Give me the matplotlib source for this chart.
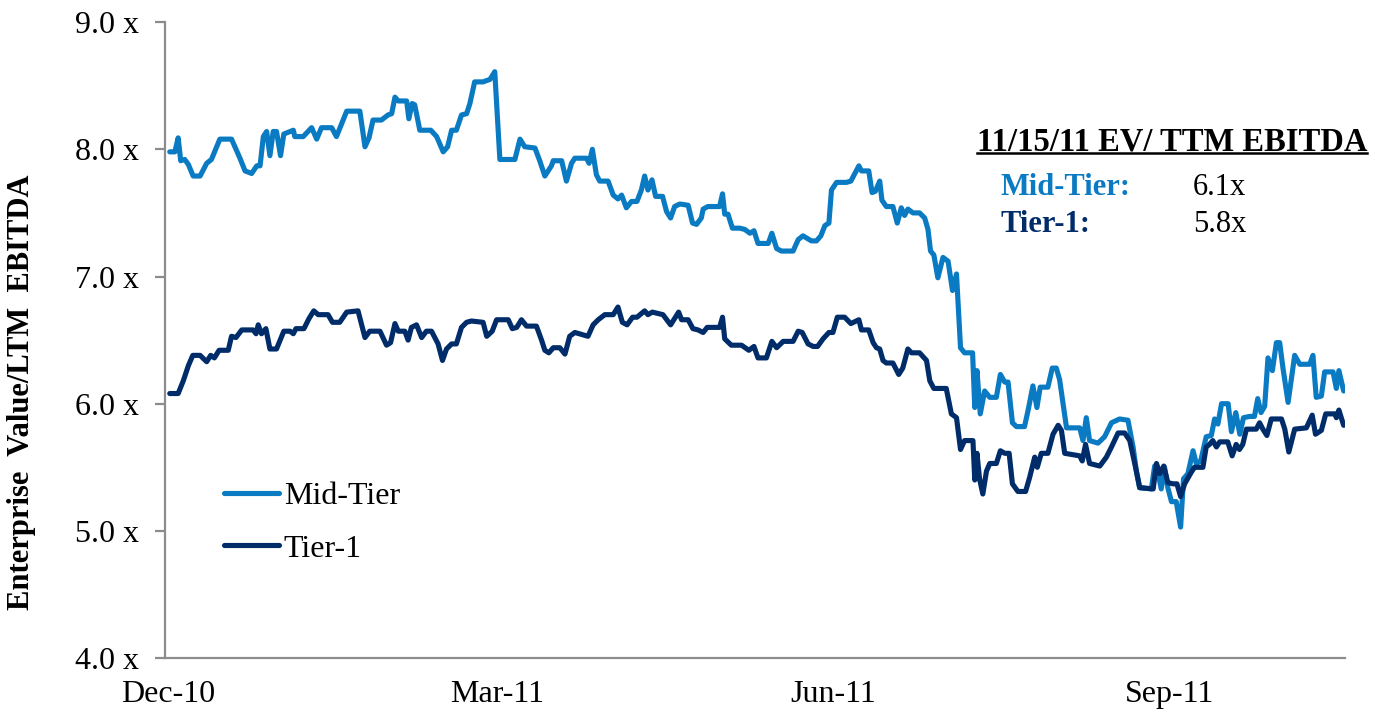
import pandas as pd
import matplotlib
matplotlib.use('Agg')
import matplotlib.pyplot as plt
import matplotlib.dates as mdates
from matplotlib.lines import Line2D

# ---- data (days after 1-Dec-2010, EV / LTM EBITDA multiple) ----
base_date = pd.Timestamp('2010-12-01')

mid_day = [0.5, 1.9, 2.8, 3.5, 4.6, 5.6, 6.9, 8.8, 10.6, 11.9,
           14.2, 17.4, 19.7, 21.1, 22.9, 24.3, 25.2, 26.1, 27.0, 27.9,
           28.8, 29.7, 30.8, 31.7, 33.4, 34.3, 34.7, 37.0, 39.3, 40.7,
           42.0, 44.8, 46.1, 48.9, 52.5, 53.9, 55.0, 56.1, 58.4, 60.2,
           61.2, 62.1, 63.0, 65.3, 65.9, 66.8, 67.5, 68.9, 71.9, 73.5,
           75.3, 76.5, 77.6, 78.9, 80.3, 81.7, 82.6, 83.9, 86.2, 88.1,
           89.4, 90.8, 94.9, 96.3, 97.6, 100.4, 101.7, 103.1, 104.9, 105.4,
           107.7, 109.0, 110.4, 111.3, 114.5, 115.2, 116.1, 117.2, 118.1, 120.4,
           121.8, 123.1, 124.1, 125.4, 126.8, 128.3, 129.5, 130.4, 131.3, 132.4,
           133.4, 135.3, 136.4, 137.5, 138.6, 140.0, 142.3, 143.5, 144.6, 145.9,
           146.4, 147.7, 150.9, 151.7, 152.3, 153.2, 154.4, 156.4, 157.8, 159.2,
           160.3, 161.4, 164.2, 165.2, 166.5, 167.8, 171.0, 172.4, 173.7, 176.0,
           177.4, 178.6, 179.7, 180.8, 181.5, 182.9, 185.6, 186.8, 187.9, 189.0,
           189.7, 191.7, 192.6, 193.5, 194.7, 195.3, 196.5, 198.3, 199.5, 200.6,
           201.5, 202.4, 203.8, 205.6, 207.0, 207.9, 208.6, 209.5, 210.6, 212.0,
           213.4, 214.6, 215.7, 216.8, 217.9, 220.1, 220.7, 221.3, 222.2, 223.4,
           224.8, 226.6, 227.7, 228.9, 229.8, 231.0, 232.1, 234.3, 235.3, 236.6,
           237.7, 238.6, 240.7, 241.9, 243.0, 243.9, 245.8, 249.4, 250.3, 251.2,
           252.1, 254.4, 256.2, 258.1, 260.3, 262.6, 264.0, 264.9, 265.8, 269.0,
           269.9, 270.8, 271.7, 272.6, 273.5, 274.5, 275.8, 277.0, 277.8, 279.0,
           280.4, 281.3, 282.5, 284.0, 285.4, 286.3, 287.2, 288.2, 290.0, 290.9,
           292.1, 293.2, 294.2, 295.9, 297.2, 298.1, 299.0, 300.0, 300.9, 302.1,
           303.2, 304.1, 305.0, 306.4, 308.2, 309.6, 312.3, 313.2, 314.1, 315.5,
           316.4, 318.7, 319.6, 320.3, 321.6]
mid_val = [7.98, 7.98, 8.09, 7.91, 7.92, 7.88, 7.79, 7.79, 7.89, 7.92,
           8.08, 8.08, 7.93, 7.83, 7.81, 7.87, 7.87, 8.10, 8.14, 7.95,
           8.14, 8.14, 7.95, 8.12, 8.14, 8.15, 8.10, 8.10, 8.17, 8.08,
           8.17, 8.17, 8.10, 8.30, 8.30, 8.02, 8.09, 8.23, 8.23, 8.27,
           8.28, 8.41, 8.38, 8.38, 8.24, 8.36, 8.35, 8.15, 8.15, 8.10,
           7.98, 8.02, 8.15, 8.15, 8.27, 8.28, 8.36, 8.53, 8.53, 8.55,
           8.61, 7.92, 7.92, 8.08, 8.02, 8.01, 7.91, 7.79, 7.87, 7.91,
           7.91, 7.75, 7.89, 7.93, 7.93, 7.89, 8.00, 7.80, 7.75, 7.75,
           7.64, 7.61, 7.64, 7.54, 7.59, 7.59, 7.68, 7.79, 7.68, 7.76,
           7.63, 7.63, 7.51, 7.46, 7.55, 7.57, 7.56, 7.42, 7.41, 7.46,
           7.53, 7.55, 7.55, 7.65, 7.49, 7.49, 7.38, 7.38, 7.37, 7.34,
           7.36, 7.26, 7.26, 7.34, 7.22, 7.20, 7.20, 7.29, 7.32, 7.28,
           7.28, 7.32, 7.40, 7.42, 7.68, 7.74, 7.74, 7.75, 7.81, 7.87,
           7.83, 7.83, 7.66, 7.67, 7.75, 7.60, 7.55, 7.55, 7.42, 7.54,
           7.48, 7.53, 7.50, 7.50, 7.46, 7.37, 7.20, 7.17, 6.99, 7.15,
           7.12, 6.89, 7.02, 6.44, 6.40, 6.40, 5.97, 6.26, 5.92, 6.10,
           6.05, 6.05, 6.23, 6.17, 6.17, 5.85, 5.82, 5.82, 5.95, 6.14,
           5.97, 6.13, 6.13, 6.28, 6.28, 6.19, 5.81, 5.81, 5.71, 5.89,
           5.71, 5.69, 5.74, 5.85, 5.88, 5.87, 5.66, 5.47, 5.34, 5.33,
           5.51, 5.46, 5.33, 5.50, 5.34, 5.23, 5.23, 5.03, 5.41, 5.45,
           5.63, 5.53, 5.55, 5.74, 5.75, 5.88, 5.84, 6.00, 6.00, 5.78,
           5.93, 5.76, 5.89, 5.90, 5.90, 6.04, 5.93, 5.98, 6.36, 6.26,
           6.48, 6.48, 6.28, 6.01, 6.38, 6.31, 6.31, 6.38, 6.05, 6.06,
           6.25, 6.25, 6.12, 6.26, 6.10]

t1_day = [0.5, 2.8, 4.2, 5.6, 6.8, 8.8, 10.6, 11.7, 12.7, 14.0,
          16.5, 17.4, 18.6, 20.2, 23.3, 24.1, 24.7, 25.6, 26.8, 27.9,
          29.7, 31.7, 33.4, 34.3, 35.0, 37.2, 38.6, 39.9, 41.1, 43.8,
          45.0, 47.0, 48.9, 52.0, 53.9, 55.2, 58.0, 59.8, 60.9, 62.1,
          63.0, 64.8, 65.7, 66.6, 68.0, 69.4, 70.7, 72.1, 73.9, 75.1,
          76.2, 77.6, 78.9, 80.3, 81.7, 83.0, 86.2, 87.2, 88.7, 89.9,
          93.1, 94.2, 95.4, 96.7, 98.1, 100.8, 102.2, 103.1, 104.2, 105.4,
          107.2, 108.6, 109.9, 111.3, 114.9, 116.3, 117.7, 119.5, 121.8, 123.1,
          124.3, 125.6, 127.1, 128.3, 130.4, 131.3, 132.5, 135.4, 137.5, 138.6,
          139.7, 140.5, 142.3, 143.6, 145.0, 146.4, 147.5, 150.9, 151.7, 152.3,
          154.1, 156.9, 158.9, 160.3, 161.4, 163.7, 165.2, 166.5, 168.3, 171.0,
          172.4, 173.5, 175.1, 176.5, 177.7, 179.2, 180.8, 181.9, 183.1, 185.1,
          186.8, 189.0, 189.7, 191.7, 192.9, 193.8, 194.7, 195.6, 196.5, 198.3,
          199.9, 201.0, 202.4, 203.4, 205.6, 207.5, 208.4, 209.5, 212.9, 214.3,
          215.7, 216.8, 217.9, 220.2, 220.7, 221.3, 222.0, 222.9, 223.9, 224.8,
          226.6, 227.7, 228.9, 230.1, 231.0, 232.5, 234.6, 235.7, 237.1, 237.8,
          238.9, 240.7, 242.1, 243.5, 244.4, 245.3, 249.4, 250.1, 251.0, 252.1,
          254.9, 256.7, 258.1, 259.9, 261.7, 263.1, 264.9, 265.8, 269.5, 270.4,
          271.3, 272.4, 273.5, 274.9, 276.0, 277.0, 278.1, 279.9, 280.8, 283.1,
          284.0, 284.9, 285.8, 286.8, 287.7, 289.9, 291.1, 292.2, 293.1, 294.0,
          295.0, 297.7, 298.6, 299.5, 300.6, 301.8, 304.6, 305.5, 306.6, 308.2,
          311.4, 313.0, 313.9, 315.5, 316.7, 319.2, 319.6, 320.3, 321.6]
t1_val = [6.08, 6.08, 6.18, 6.30, 6.38, 6.38, 6.33, 6.38, 6.36, 6.42,
          6.42, 6.53, 6.52, 6.58, 6.58, 6.55, 6.62, 6.55, 6.59, 6.43,
          6.43, 6.57, 6.57, 6.55, 6.59, 6.59, 6.67, 6.73, 6.70, 6.70,
          6.64, 6.64, 6.72, 6.73, 6.52, 6.57, 6.57, 6.46, 6.48, 6.63,
          6.57, 6.57, 6.50, 6.60, 6.62, 6.52, 6.57, 6.57, 6.47, 6.34,
          6.43, 6.47, 6.47, 6.60, 6.64, 6.65, 6.64, 6.53, 6.57, 6.66,
          6.66, 6.59, 6.60, 6.66, 6.61, 6.61, 6.50, 6.42, 6.40, 6.44,
          6.44, 6.39, 6.53, 6.56, 6.53, 6.62, 6.66, 6.70, 6.70, 6.76,
          6.64, 6.62, 6.68, 6.68, 6.73, 6.70, 6.72, 6.70, 6.62, 6.67,
          6.72, 6.66, 6.66, 6.59, 6.58, 6.56, 6.60, 6.60, 6.68, 6.51,
          6.46, 6.46, 6.42, 6.45, 6.36, 6.36, 6.49, 6.44, 6.49, 6.49,
          6.57, 6.56, 6.47, 6.45, 6.45, 6.51, 6.56, 6.56, 6.68, 6.68,
          6.63, 6.66, 6.58, 6.58, 6.48, 6.44, 6.43, 6.34, 6.32, 6.32,
          6.23, 6.28, 6.43, 6.40, 6.40, 6.34, 6.18, 6.12, 6.12, 5.92,
          5.89, 5.64, 5.71, 5.71, 5.40, 5.61, 5.41, 5.29, 5.47, 5.53,
          5.53, 5.63, 5.61, 5.61, 5.37, 5.31, 5.31, 5.42, 5.58, 5.50,
          5.61, 5.61, 5.76, 5.83, 5.79, 5.61, 5.59, 5.55, 5.68, 5.53,
          5.51, 5.58, 5.66, 5.77, 5.77, 5.71, 5.47, 5.34, 5.33, 5.53,
          5.45, 5.51, 5.38, 5.37, 5.37, 5.27, 5.37, 5.46, 5.50, 5.50,
          5.66, 5.68, 5.71, 5.66, 5.70, 5.70, 5.59, 5.68, 5.64, 5.68,
          5.80, 5.80, 5.85, 5.80, 5.75, 5.88, 5.88, 5.80, 5.62, 5.80,
          5.81, 5.91, 5.76, 5.79, 5.92, 5.92, 5.89, 5.95, 5.83]

tick_dates = ['2010-12-01', '2011-03-01', '2011-06-01', '2011-09-01']
y_ticks = [4, 5, 6, 7, 8, 9]
summary_labels = ['Mid-Tier:', 'Tier-1:']
summary_values = ['6.1x', '5.8x']

MID_COLOR = '#0a7bc2'
T1_COLOR = '#002d6a'
SERIF = 'Liberation Serif'

plt.rcParams['font.family'] = SERIF

fig = plt.figure(figsize=(13.75, 7.13), dpi=100)
ax = fig.add_axes([0.12, 0.077, 0.858, 0.892])

mid_x = base_date + pd.to_timedelta(mid_day, unit='D')
t1_x = base_date + pd.to_timedelta(t1_day, unit='D')

ax.plot(mid_x, mid_val, color=MID_COLOR, lw=3.7, label='Mid-Tier',
        solid_joinstyle='round', solid_capstyle='round')
ax.plot(t1_x, t1_val, color=T1_COLOR, lw=3.7, label='Tier-1',
        solid_joinstyle='round', solid_capstyle='round')

ax.set_xlim(base_date - pd.Timedelta(days=0.8), base_date + pd.Timedelta(days=321.9))
ax.set_ylim(4, 9)

ax.set_xticks(pd.to_datetime(tick_dates))
ax.xaxis.set_major_formatter(mdates.DateFormatter('%b-%y'))
ax.set_yticks(y_ticks)
ax.set_yticklabels([f'{v:.1f} x' for v in y_ticks])

for side in ['top', 'right']:
    ax.spines[side].set_visible(False)
for side in ['left', 'bottom']:
    ax.spines[side].set_color('#8c8c8c')
    ax.spines[side].set_linewidth(1.6)

ax.tick_params(axis='y', length=7, width=1.6, color='#8c8c8c', pad=12, labelsize=23)
ax.tick_params(axis='x', length=0, pad=16, labelsize=23)

fig.text(0.016, 0.45, 'Enterprise  Value/LTM  EBITDA', rotation=90,
         ha='center', va='center', fontsize=22, fontweight='bold')

ax.legend(loc='upper left', bbox_to_anchor=(0.05, 0.277), frameon=False,
          fontsize=23, handlelength=1.72, handletextpad=0.15, labelspacing=0.72,
          borderpad=0, borderaxespad=0)

# summary box in the upper right
title = fig.text(0.7105, 0.7896, '11/15/11 EV/ TTM EBITDA', ha='left', va='baseline',
                 fontsize=23.5, fontweight='bold')
fig.text(0.7278, 0.7265, summary_labels[0], color=MID_COLOR, fontsize=22,
         fontweight='bold', va='baseline')
fig.text(0.7278, 0.675, summary_labels[1], color=T1_COLOR, fontsize=22,
         fontweight='bold', va='baseline')
fig.text(0.8674, 0.7265, summary_values[0], fontsize=22, va='baseline')
fig.text(0.8674, 0.675, summary_values[1], fontsize=22, va='baseline')

fig.canvas.draw()
bb = title.get_window_extent().transformed(fig.transFigure.inverted())
uy = 1 - 152.5 / 713
fig.add_artist(Line2D([bb.x0, bb.x1], [uy, uy], transform=fig.transFigure,
                      color='black', lw=1.8))

fig.savefig('out.png', dpi=100)
